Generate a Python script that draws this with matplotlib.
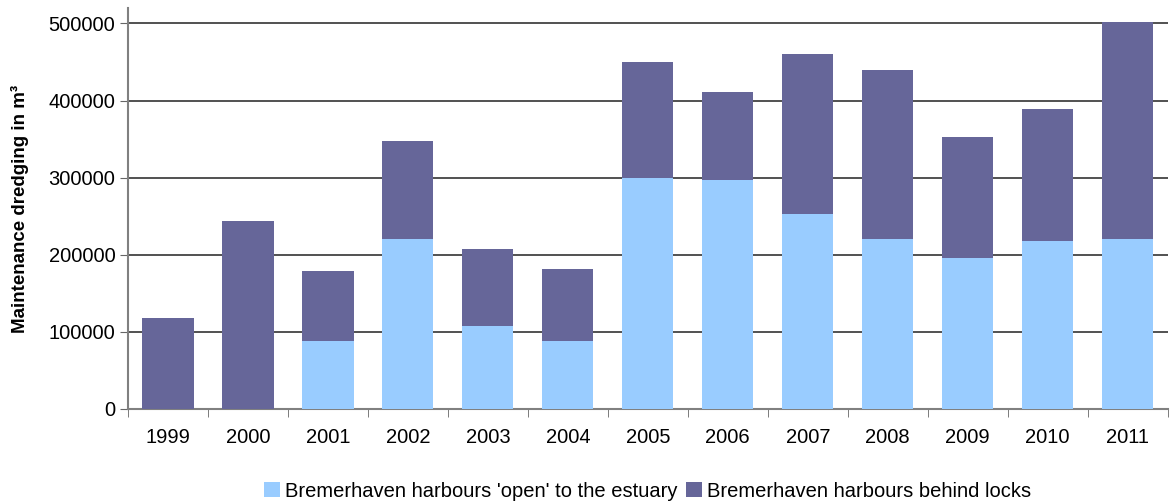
import matplotlib as mpl
mpl.use('Agg')
import matplotlib.pyplot as plt
import numpy as np

plt.rcParams['font.family'] = ['Liberation Sans', 'DejaVu Sans']

years = ['1999', '2000', '2001', '2002', '2003', '2004', '2005',
         '2006', '2007', '2008', '2009', '2010', '2011']
# m³ per year
open_estuary = [0, 0, 88000, 220000, 108000, 88000, 299000,
                297000, 253000, 220000, 196000, 218000, 220000]
behind_locks = [118000, 244000, 91000, 128000, 100000, 94000, 151000,
                114000, 207000, 220000, 157000, 171000, 282000]

fig = plt.figure(figsize=(11.7, 5.03), dpi=100)
ax = fig.add_axes([0.1094, 0.187, 0.8886, 0.797])

x = np.arange(len(years))
w = 0.64
ax.bar(x, open_estuary, w, color='#99CCFF',
       label="Bremerhaven harbours 'open' to the estuary", zorder=3)
ax.bar(x, behind_locks, w, bottom=open_estuary, color='#666699',
       label='Bremerhaven harbours behind locks', zorder=3)

ax.set_xlim(-0.5, len(years) - 0.5)
ax.set_ylim(0, 520000)
ax.set_yticks(range(0, 500001, 100000))
ax.yaxis.grid(True, color='#333333', lw=1.2, zorder=1)
ax.set_axisbelow(True)

ax.set_xticks(x)
ax.set_xticklabels(years)
ax.set_xticks(np.arange(-0.5, len(years)), minor=True)
ax.tick_params(axis='x', which='major', length=0, pad=14, labelsize=14.5)
ax.tick_params(axis='x', which='minor', length=6, color='#666666', direction='out')
ax.tick_params(axis='y', length=6, color='#666666', labelsize=14.5, pad=3)

for s in ['top', 'right']:
    ax.spines[s].set_visible(False)
for s in ['left', 'bottom']:
    ax.spines[s].set_color('#808080')
    ax.spines[s].set_linewidth(1.5)

ax.set_ylabel('Maintenance dredging in m³', fontsize=13.5, fontweight='bold', labelpad=14)

ax.legend(loc='center', bbox_to_anchor=(0.5, -0.205), ncol=2, frameon=False,
          fontsize=14.5, handlelength=0.8, handleheight=0.8, handletextpad=0.25,
          columnspacing=0.4, borderpad=0)

plt.savefig('out.png')
